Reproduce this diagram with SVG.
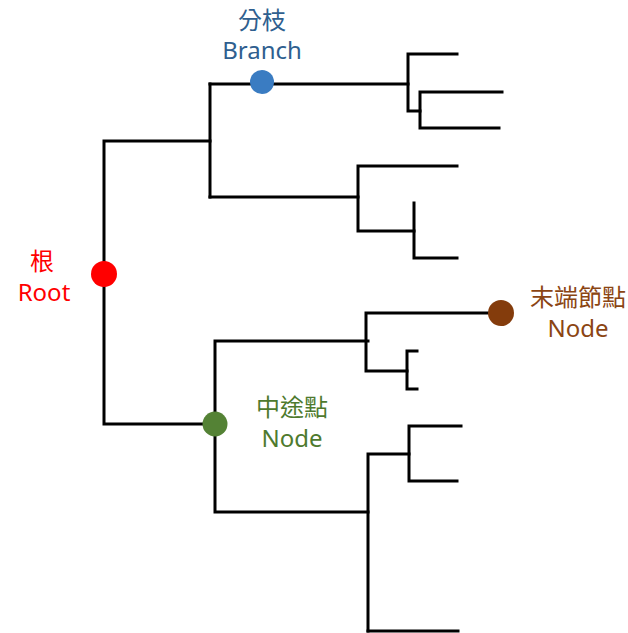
<svg xmlns="http://www.w3.org/2000/svg" width="628" height="633" viewBox="0 0 628 633">
<style>
.e{fill:none;stroke:#000;stroke-width:3;stroke-linecap:square;stroke-linejoin:miter}
text{font-family:"Noto Sans","Noto Sans CJK TC",sans-serif;font-size:24px;text-anchor:middle}
</style>
<rect width="628" height="633" fill="#fff"/>
<g id="connectors">
<path class="e" d="M210,141 H104 V424 H215"/>
<path class="e" d="M210,84 V197"/>
<path class="e" d="M210,84 H408"/>
<path class="e" d="M457,54 H408 V111 H420"/>
<path class="e" d="M502,92 H420 V128 H499"/>
<path class="e" d="M210,197 H358"/>
<path class="e" d="M457,166 H358 V231 H414"/>
<path class="e" d="M414,203 V258 H457"/>
<path class="e" d="M368,341 H215 V512 H368"/>
<path class="e" d="M501,313 H366 V371 H407"/>
<path class="e" d="M417,351 H407 V389 H417"/>
<path class="e" d="M368,631 V454 H409"/>
<path class="e" d="M461,426 H409 V481 H457"/>
<path class="e" d="M368,631 H458"/>
</g>
<g id="root"><circle cx="104" cy="274" r="13" fill="#ff0000"/><text x="42" y="270" fill="#ff0000">根</text><text x="44" y="301" fill="#ff0000">Root</text></g>
<g id="branch"><circle cx="262" cy="82" r="12" fill="#3a7cc2"/><text x="262" y="29" fill="#2f5f8f">分枝</text><text x="262" y="59" fill="#2f5f8f">Branch</text></g>
<g id="internal"><circle cx="215" cy="424" r="12.5" fill="#548235"/><text x="292" y="416" fill="#4e7a2e">中途點</text><text x="292" y="447" fill="#4e7a2e">Node</text></g>
<g id="leaf"><circle cx="501" cy="313" r="13" fill="#843c0c"/><text x="578" y="306" fill="#8b4513">末端節點</text><text x="578" y="337" fill="#8b4513">Node</text></g>
</svg>
